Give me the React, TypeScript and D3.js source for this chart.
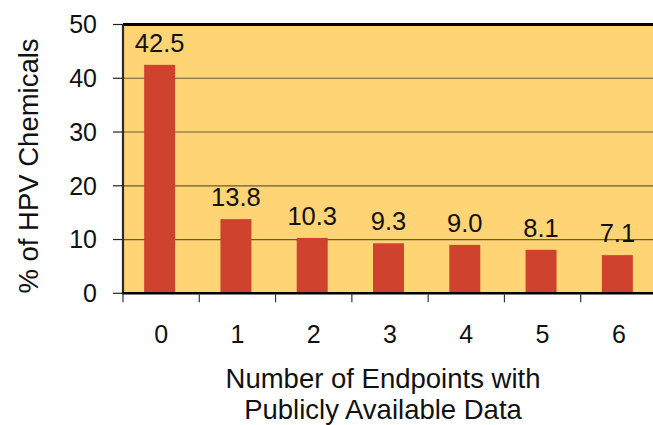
import React from "react";
import * as d3 from "d3";

const categories = ["0", "1", "2", "3", "4", "5", "6"];
const values = [42.5, 13.8, 10.3, 9.3, 9.0, 8.1, 7.1];
const valueLabels = ["42.5", "13.8", "10.3", "9.3", "9.0", "8.1", "7.1"];
const yTicks = [0, 10, 20, 30, 40, 50];
const yTitle = "% of HPV Chemicals";
const xTitleLines = ["Number of Endpoints with", "Publicly Available Data"];

const W = 653;
const H = 425;
const left = 123;
const right = 657;
const top = 24.5;
const bottom = 293.3;
const FONT = "'Liberation Sans', Arial, Helvetica, sans-serif";

export default function App() {
  const x = d3.scaleBand<string>().domain(categories).range([left, right]);
  const y = d3.scaleLinear().domain([0, 50]).range([bottom, top]);
  const barW = 31;
  const boundaries = d3.range(categories.length + 1).map((i) => left + i * x.step());

  return (
    <svg
      width={W}
      height={H}
      style={{ position: "absolute", left: 0, top: 0, background: "#fff" }}
      fontFamily={FONT}
    >
      <rect x={left} y={top} width={right - left} height={bottom - top} fill="#FED474" />
      {yTicks.map((t) => (
        <g key={t}>
          {t > 0 && t < 50 && (
            <line x1={left} x2={right} y1={y(t)} y2={y(t)} stroke="#6a5a38" strokeWidth={1.2} />
          )}
          <line x1={left - 10} x2={left} y1={y(t)} y2={y(t)} stroke="#222" strokeWidth={1.2} />
          <text
            x={97}
            y={y(t)}
            dy="0.35em"
            textAnchor="end"
            fontSize={25}
            fill="#111"
          >
            {t}
          </text>
        </g>
      ))}
      {values.map((v, i) => {
        const cx = (x(categories[i]) as number) + x.bandwidth() / 2 - 1.5;
        return (
          <g key={i}>
            <rect x={cx - barW / 2} y={y(v)} width={barW} height={bottom - y(v)} fill="#CF432E" />
            <text x={cx} y={y(v) - 13} textAnchor="middle" fontSize={25.5} fill="#111">
              {valueLabels[i]}
            </text>
          </g>
        );
      })}
      <line x1={left} x2={right} y1={top} y2={top} stroke="#000" strokeWidth={3} />
      <line x1={left} x2={left} y1={top} y2={bottom} stroke="#2a2a2a" strokeWidth={2.2} />
      <line x1={left - 1} x2={right} y1={bottom} y2={bottom} stroke="#000" strokeWidth={2.5} />
      {boundaries.map((b, i) => (
        <line key={i} x1={b} x2={b} y1={bottom} y2={bottom + 9} stroke="#333" strokeWidth={1.2} />
      ))}
      {categories.map((c) => (
        <text
          key={c}
          x={(x(c) as number) + x.bandwidth() / 2}
          y={343}
          textAnchor="middle"
          fontSize={25}
          fill="#111"
        >
          {c}
        </text>
      ))}
      {xTitleLines.map((l, i) => (
        <text key={i} x={383} y={388 + i * 31} textAnchor="middle" fontSize={27.5} fill="#111">
          {l}
        </text>
      ))}
      <text
        transform={`translate(38, 166) rotate(-90)`}
        textAnchor="middle"
        fontSize={27.5}
        fill="#111"
      >
        {yTitle}
      </text>
    </svg>
  );
}
